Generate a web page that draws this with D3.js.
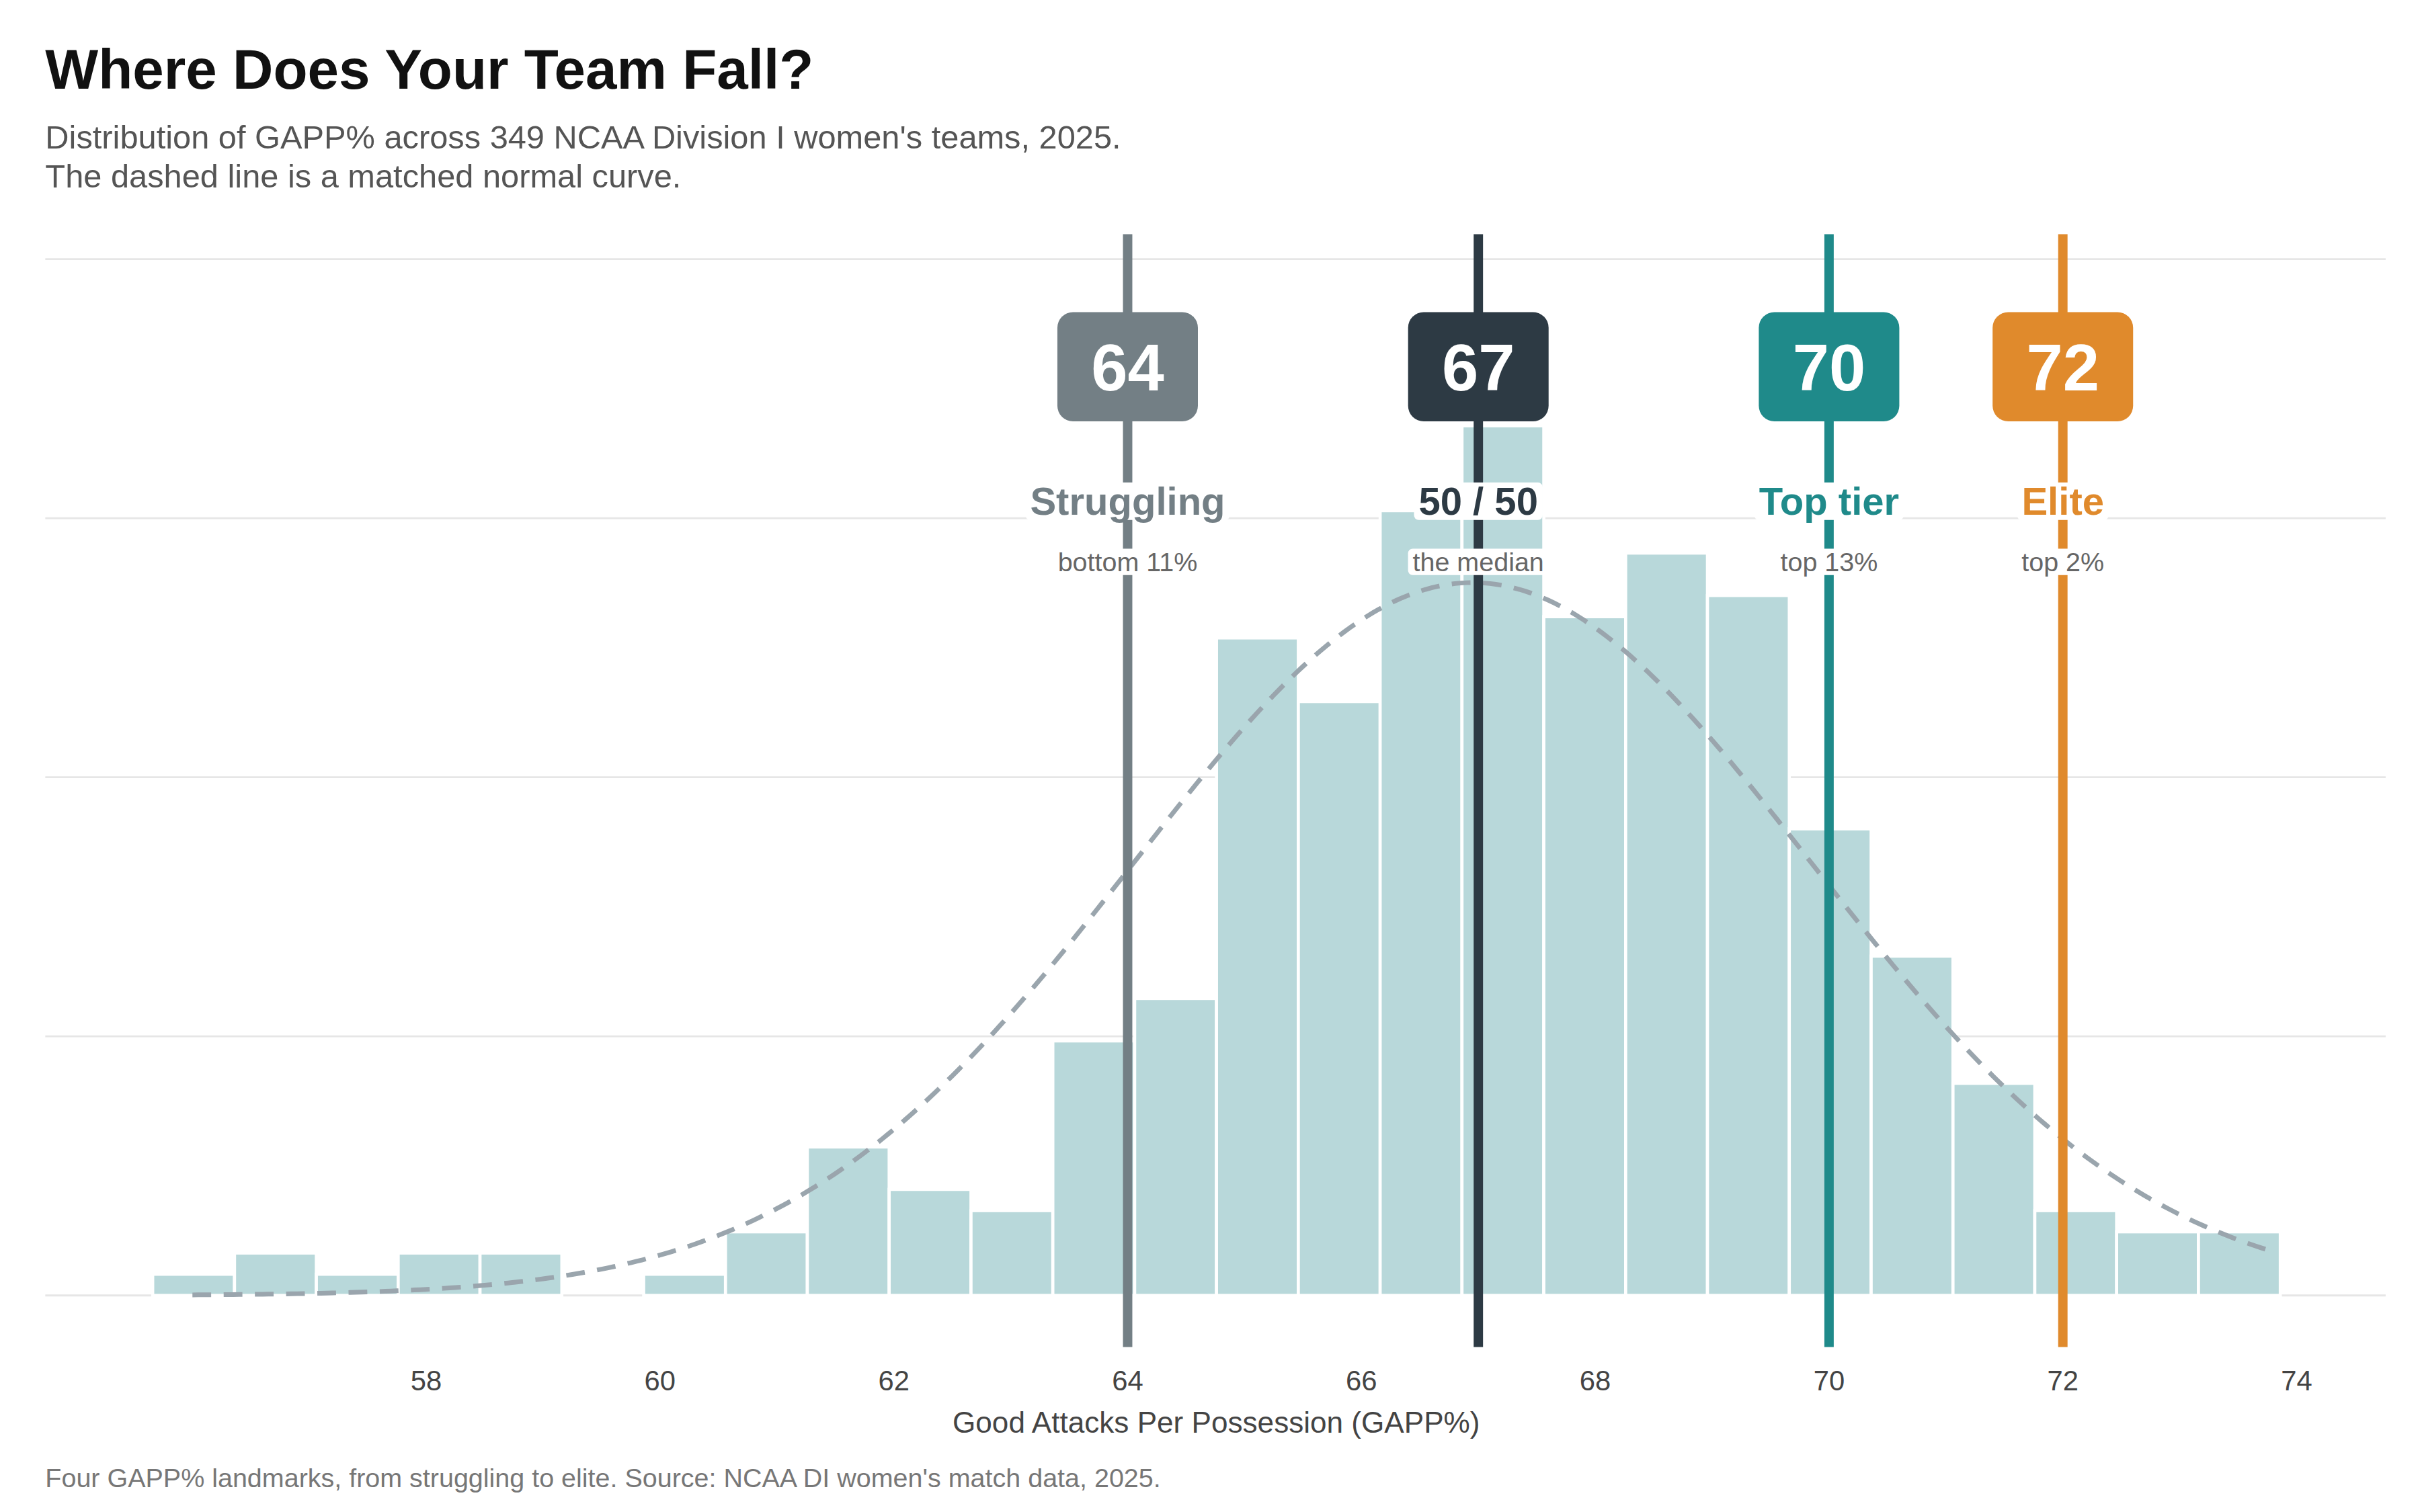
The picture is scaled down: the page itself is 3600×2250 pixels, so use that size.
<!DOCTYPE html>
<html><head><meta charset="utf-8">
<script src="https://cdn.jsdelivr.net/npm/d3@7"></script>
<style>body{margin:0;background:#fff}</style></head>
<body><svg id="c"></svg>
<script>
const binStart = 55.66, binWidth = 0.7;
const counts = [1,2,1,2,2,0,1,3,7,5,4,12,14,31,28,37,41,32,35,33,22,16,10,4,3,3];
const totalTeams = 349;
const normalMean = 66.95, normalSd = 2.9;
const xTicks = [58,60,62,64,66,68,70,72,74];
const yGrid = [0,0.05,0.1,0.15,0.2];
const markers = [
  {v:64, num:"64", label:"Struggling", sub:"bottom 11%", color:"#737f85"},
  {v:67, num:"67", label:"50 / 50", sub:"the median", color:"#2d3a44"},
  {v:70, num:"70", label:"Top tier", sub:"top 13%", color:"#1f8a8a"},
  {v:72, num:"72", label:"Elite", sub:"top 2%", color:"#e08a2c"}
];

const W=1550, H=968.75;
const svg=d3.select("#c").attr("width",3600).attr("height",2250).attr("viewBox",`0 0 ${W} ${H}`)
  .style("font-family","'Liberation Sans', Arial, sans-serif");
const x=d3.scaleLinear().domain([58,74]).range([273,1471]);
const y=d3.scaleLinear().domain([0,0.05]).range([830,664]);
const L=29,R=1528;

svg.selectAll(".g").data(yGrid).join("line").attr("x1",L).attr("x2",R)
  .attr("y1",d=>y(d)).attr("y2",d=>y(d)).attr("stroke","#e6e6e6").attr("stroke-width",1.2);

const bins=counts.map((c,i)=>({x0:binStart+i*binWidth,x1:binStart+(i+1)*binWidth,d:c/(totalTeams*binWidth)}));
svg.selectAll(".b").data(bins.filter(b=>b.d>0)).join("rect")
  .attr("x",d=>x(d.x0)).attr("width",d=>x(d.x1)-x(d.x0))
  .attr("y",d=>y(d.d)).attr("height",d=>y(0)-y(d.d))
  .attr("fill","#b8d8da").attr("stroke","#fff").attr("stroke-width",2);

const pts=d3.range(56.0,73.8001,0.05).map(v=>[v,Math.exp(-0.5*((v-normalMean)/normalSd)**2)/(normalSd*Math.sqrt(2*Math.PI))]);
svg.append("path").attr("d",d3.line().x(d=>x(d[0])).y(d=>y(d[1]))(pts))
  .attr("fill","none").attr("stroke","#9aa5ad").attr("stroke-width",3).attr("stroke-dasharray","12,8");

const mg=svg.selectAll(".m").data(markers).join("g");
mg.append("line").attr("x1",d=>x(d.v)).attr("x2",d=>x(d.v)).attr("y1",150).attr("y2",863)
  .attr("stroke",d=>d.color).attr("stroke-width",6);
mg.append("rect").attr("x",d=>x(d.v)-45).attr("y",200).attr("width",90).attr("height",70).attr("rx",10)
  .attr("fill",d=>d.color);
mg.append("text").attr("x",d=>x(d.v)).attr("y",250).attr("text-anchor","middle").attr("fill","#fff")
  .attr("font-size",42).attr("font-weight","bold").text(d=>d.num);
mg.each(function(d){
  const g=d3.select(this);
  const t=g.append("text").attr("x",x(d.v)).attr("y",330).attr("text-anchor","middle")
    .attr("fill",d.color).attr("font-size",25).attr("font-weight","bold").text(d.label);
  const bb=t.node().getBBox();
  g.insert("rect",()=>t.node()).attr("x",bb.x-3).attr("y",bb.y+2).attr("width",bb.width+6).attr("height",bb.height-4).attr("rx",3).attr("fill","#fff");
  const s=g.append("text").attr("x",x(d.v)).attr("y",366).attr("text-anchor","middle")
    .attr("fill","#666").attr("font-size",17).text(d.sub);
  const sb=s.node().getBBox();
  g.insert("rect",()=>s.node()).attr("x",sb.x-3).attr("y",sb.y+1).attr("width",sb.width+6).attr("height",sb.height-2).attr("rx",3).attr("fill","#fff");
});

svg.selectAll(".xt").data(xTicks).join("text").attr("x",d=>x(d)).attr("y",891).attr("text-anchor","middle")
  .attr("font-size",18).attr("fill","#444").text(d=>d);
svg.append("text").attr("x",779).attr("y",918).attr("text-anchor","middle").attr("font-size",19).attr("fill","#444")
  .text("Good Attacks Per Possession (GAPP%)");

svg.append("text").attr("x",29).attr("y",57).attr("font-size",36).attr("font-weight","bold").attr("fill","#111")
  .text("Where Does Your Team Fall?");
svg.append("text").attr("x",29).attr("y",95).attr("font-size",21).attr("fill","#555")
  .text("Distribution of GAPP% across 349 NCAA Division I women's teams, 2025.");
svg.append("text").attr("x",29).attr("y",120).attr("font-size",21).attr("fill","#555")
  .text("The dashed line is a matched normal curve.");
svg.append("text").attr("x",29).attr("y",953).attr("font-size",17).attr("fill","#777")
  .text("Four GAPP% landmarks, from struggling to elite. Source: NCAA DI women's match data, 2025.");
</script></body></html>
